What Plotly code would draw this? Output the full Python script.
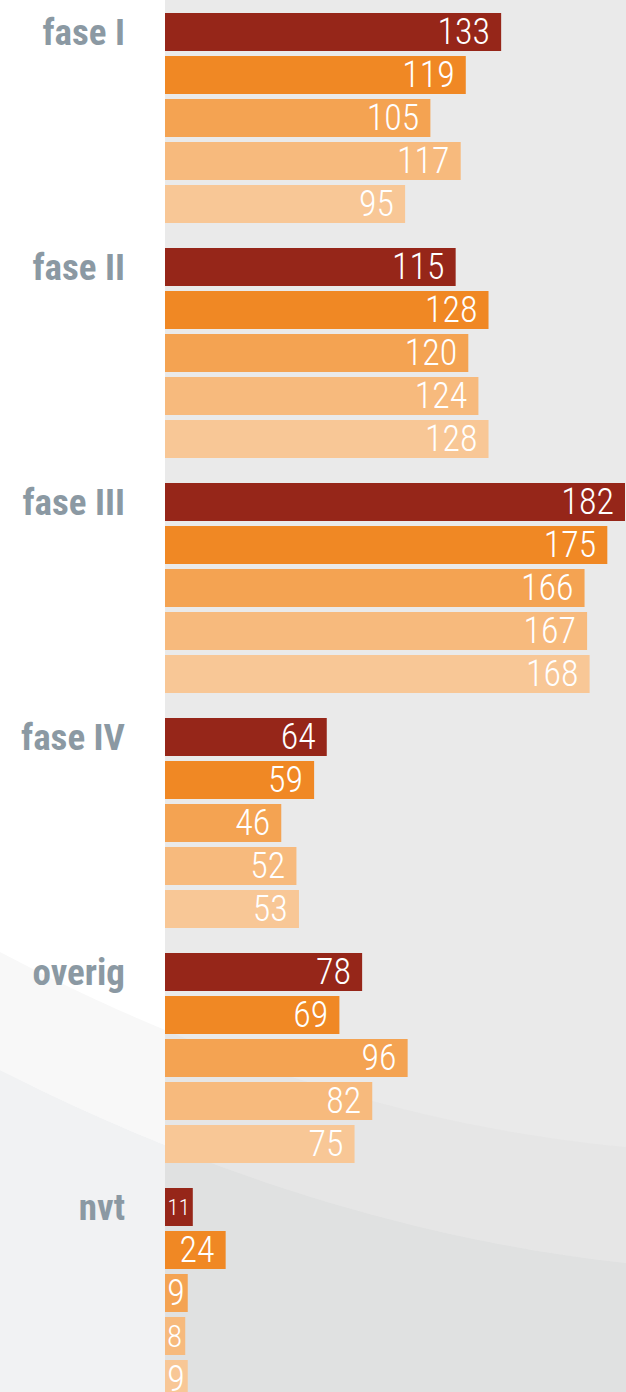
import plotly.graph_objects as go
import numpy as np

# ---- data ----
groups = ["fase I", "fase II", "fase III", "fase IV", "overig", "nvt"]
series_names = ["reeks 1", "reeks 2", "reeks 3", "reeks 4", "reeks 5"]
s1 = [133, 115, 182, 64, 78, 11]
s2 = [119, 128, 175, 59, 69, 24]
s3 = [105, 120, 166, 46, 96, 9]
s4 = [117, 124, 167, 52, 82, 8]
s5 = [95, 128, 168, 53, 75, 9]
series = [s1, s2, s3, s4, s5]

# ---- style ----
colors = ["#962619", "#F08824", "#F4A352", "#F7BA7D", "#F8C796"]
W, H = 626, 1392
ML = 165
XMAX = 182 * (W - ML) / 460          # axis range so the longest bar ends near the right edge
PX_PER_UNIT = (W - ML) / XMAX
GROUP_STEP = 235 / 43
BAR_W = 38 / 43
VAL_FONT = "Roboto Condensed, DejaVu Sans Condensed, sans-serif"
LAB_FONT = "Roboto Condensed, Open Sans Condensed, DejaVu Sans Condensed, sans-serif"
VAL_SIZE = 36
DIGIT_EM = 0.52
SPACE_EM = 0.2


def label_style(v):
    """text + font size so the white label stays inside its bar"""
    n = len(str(v))
    barpx = v * PX_PER_UNIT
    if (n * DIGIT_EM + SPACE_EM) * VAL_SIZE + 6 <= barpx:
        return f"{v}\u00a0", VAL_SIZE
    size = min(VAL_SIZE, (barpx - 4) / (n * DIGIT_EM))
    return str(v), size


fig = go.Figure()
for i, (name, vals) in enumerate(zip(series_names, series)):
    ypos = [g * GROUP_STEP + i for g in range(len(groups))]
    styled = [label_style(v) for v in vals]
    fig.add_trace(go.Bar(
        x=vals, y=ypos, orientation="h", name=name,
        width=BAR_W, marker=dict(color=colors[i], line=dict(width=0)),
        text=[t for t, _ in styled], textposition="inside", insidetextanchor="end",
        constraintext="none", textangle=0,
        textfont=dict(color="white", size=[s for _, s in styled], family=VAL_FONT, weight=300),
        hovertemplate="%{x}<extra>" + name + "</extra>",
    ))


# ---- decorative background curves (pixel -> paper) ----
def px2paper(px, py):
    return (px - ML) / (W - ML), 1 - py / H


def curve(y0, y1, y2):
    A = np.array([[165, 165 ** 2], [626, 626 ** 2]], float)
    b, c = np.linalg.solve(A, [y1 - y0, y2 - y0])
    xs = np.linspace(0, W, 60)
    return [(x, y0 + b * x + c * x * x) for x in xs]


def clip(pts, xmin, xmax):
    xs = [p[0] for p in pts]
    ys = [p[1] for p in pts]
    inner = [(x, y) for x, y in pts if xmin < x < xmax]
    return [(xmin, np.interp(xmin, xs, ys))] + inner + [(xmax, np.interp(xmax, xs, ys))]


def region(pts_top, pts_bot, xmin, xmax):
    top = clip(pts_top, xmin, xmax)
    bot = [(xmax, H), (xmin, H)] if pts_bot is None else clip(pts_bot, xmin, xmax)[::-1]
    d = ""
    for k, (x, y) in enumerate(top + bot):
        X, Y = px2paper(x, y)
        d += ("M" if k == 0 else "L") + f"{X:.5f},{Y:.5f} "
    return d + "Z"


cA = curve(952, 1030, 1147)
cB = curve(1070, 1145, 1263)
shapes = [
    dict(type="path", xref="paper", yref="paper", path=region(cA, cB, 0, ML),
         fillcolor="#F8F8F8", line=dict(width=0), layer="below"),
    dict(type="path", xref="paper", yref="paper", path=region(cB, None, 0, ML),
         fillcolor="#F1F2F3", line=dict(width=0), layer="below"),
    dict(type="path", xref="paper", yref="paper", path=region(cA, cB, ML, W),
         fillcolor="#E6E6E6", line=dict(width=0), layer="below"),
    dict(type="path", xref="paper", yref="paper", path=region(cB, None, ML, W),
         fillcolor="#E0E1E1", line=dict(width=0), layer="below"),
]

fig.update_layout(
    width=W, height=H,
    margin=dict(l=ML, r=0, t=0, b=0, pad=0),
    paper_bgcolor="white", plot_bgcolor="#EAEAEA",
    barmode="overlay", showlegend=False,
    shapes=shapes,
    xaxis=dict(range=[0, XMAX], showgrid=False, zeroline=False,
               showticklabels=False, ticks="", fixedrange=True),
    yaxis=dict(range=[(H - 32) / 43, -32 / 43], showgrid=False, zeroline=False,
               tickvals=[g * GROUP_STEP for g in range(len(groups))], ticktext=groups,
               ticks="", ticklabelstandoff=39,
               tickfont=dict(size=37, color="#8B99A3", family=LAB_FONT, weight="bold"),
               fixedrange=True),
)

fig.write_html("out.html", config={"displayModeBar": False},
               post_script="document.body.style.margin='0px';")
